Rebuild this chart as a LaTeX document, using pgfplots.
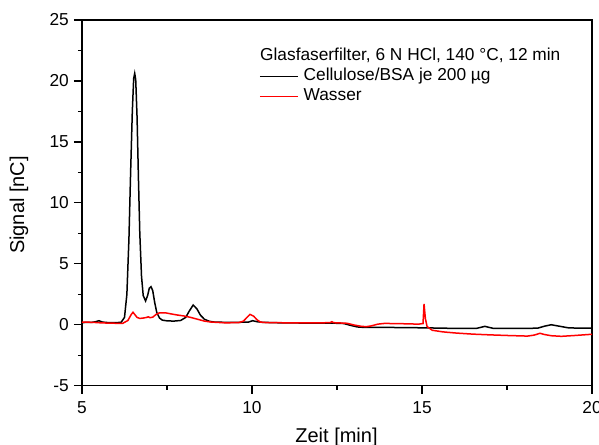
\documentclass[border=0pt]{standalone}
\usepackage{pgfplots}
\pgfplotsset{compat=1.18}
\usepackage{fontspec}
\setmainfont{Liberation Sans}
\pgfplotstableread{
x y
5.0 0.18
5.3 0.2
5.4 0.25
5.5 0.33
5.6 0.22
5.8 0.17
6.0 0.17
6.15 0.2
6.25 0.6
6.32 2.5
6.38 7
6.43 12.5
6.48 17.5
6.52 20.2
6.55 20.62
6.58 20.1
6.62 17
6.66 12
6.70 7.5
6.75 4
6.80 2.4
6.87 1.95
6.93 2.4
6.98 3.0
7.03 3.12
7.08 2.8
7.14 1.8
7.2 1.0
7.28 0.55
7.36 0.38
7.5 0.32
7.7 0.3
7.9 0.35
8.05 0.6
8.15 1.1
8.27 1.62
8.38 1.3
8.48 0.8
8.6 0.45
8.75 0.28
8.9 0.22
9.2 0.2
9.6 0.2
9.9 0.22
10.02 0.33
10.15 0.25
10.3 0.2
10.8 0.16
11.5 0.14
12.3 0.14
12.7 0.1
12.9 -0.05
13.1 -0.18
13.3 -0.22
14 -0.22
15 -0.25
16 -0.3
16.6 -0.3
16.75 -0.2
16.85 -0.13
16.95 -0.2
17.1 -0.3
18 -0.3
18.4 -0.28
18.6 -0.12
18.8 0.0
19.0 -0.1
19.3 -0.25
19.6 -0.28
20 -0.27
}\blacktable
\pgfplotstableread{
x y
5.0 0.22
5.3 0.2
5.6 0.15
6.0 0.12
6.2 0.12
6.35 0.35
6.45 0.85
6.5 1.02
6.55 0.85
6.62 0.6
6.7 0.52
6.8 0.55
6.9 0.6
6.95 0.65
7.0 0.58
7.08 0.62
7.18 0.85
7.28 0.98
7.45 0.98
7.6 0.9
7.8 0.8
8.0 0.72
8.2 0.6
8.4 0.45
8.6 0.3
8.8 0.22
9.2 0.16
9.6 0.17
9.75 0.3
9.85 0.6
9.94 0.85
10.05 0.7
10.15 0.4
10.25 0.22
10.4 0.18
11 0.16
12 0.15
12.3 0.18
12.35 0.25
12.4 0.17
12.8 0.12
13.0 -0.02
13.2 -0.12
13.35 -0.16
13.5 -0.1
13.7 0.05
13.9 0.11
14.5 0.08
14.9 0.05
15.03 0.1
15.06 1.7
15.1 0.5
15.15 -0.15
15.3 -0.45
15.6 -0.58
16 -0.68
16.5 -0.77
17 -0.83
17.5 -0.88
18.1 -0.93
18.3 -0.85
18.47 -0.7
18.6 -0.8
18.8 -0.9
19.1 -0.95
19.5 -0.88
20 -0.78
}\redtable
\begin{document}
\begin{tikzpicture}
\begin{axis}[
  at={(0pt,0pt)}, anchor=south west,
  scale only axis, width=510pt, height=365.7pt,
  xmin=5, xmax=20, ymin=-5, ymax=25,
  xtick={5,10,15,20}, ytick={-5,0,5,10,15,20,25},
  minor x tick num=1, minor y tick num=1,
  xtick pos=bottom, ytick pos=left,
  tick align=outside,
  major tick length=8pt, minor tick length=4pt,
  every tick/.style={black, line width=1.3pt},
  axis line style={line width=1.4pt},
  /pgf/number format/assume math mode=true,
  ticklabel style={font=\fontsize{17.3}{20}\selectfont},
  yticklabel style={inner sep=0pt, anchor=east, xshift=-5pt},
  xticklabel style={inner sep=0pt, anchor=north, yshift=-8pt},
  label style={font=\fontsize{20}{24}\selectfont, inner sep=0pt},
  xlabel={Zeit [min]},
  xlabel style={at={(axis description cs:0.499,-0.1165)}, anchor=north},
  ylabel={Signal [nC]},
  ylabel style={at={(axis description cs:-0.1235,0.494)}, anchor=center, rotate=0},
  legend style={at={(axis description cs:0.347,0.8685)}, anchor=north west,
    draw=none, fill=none, inner sep=0pt, row sep=3.6pt,
    font=\fontsize{17.3}{20}\selectfont,
    nodes={inner sep=0pt, inner xsep=5pt, text height=12.6pt, text depth=3.8pt}},
  legend cell align=left,
  legend image code/.code={\draw[#1] (0pt,0pt) -- (38pt,0pt);},
]
\addplot[black, line width=1.5pt] table[x=x,y=y] {\blacktable};
\addlegendentry{Cellulose/BSA je 200 µg}
\addplot[red, line width=1.5pt] table[x=x,y=y] {\redtable};
\addlegendentry{Wasser}
\node[anchor=base west, inner sep=0pt, font=\fontsize{17.3}{20}\selectfont] at (axis description cs:0.349,0.8906) {Glasfaserfilter, 6 N HCl, 140 °C, 12 min};
\end{axis}
\pgfresetboundingbox
\useasboundingbox (-82pt,-58.3pt) rectangle (517pt,385.7pt);
\end{tikzpicture}
\end{document}
